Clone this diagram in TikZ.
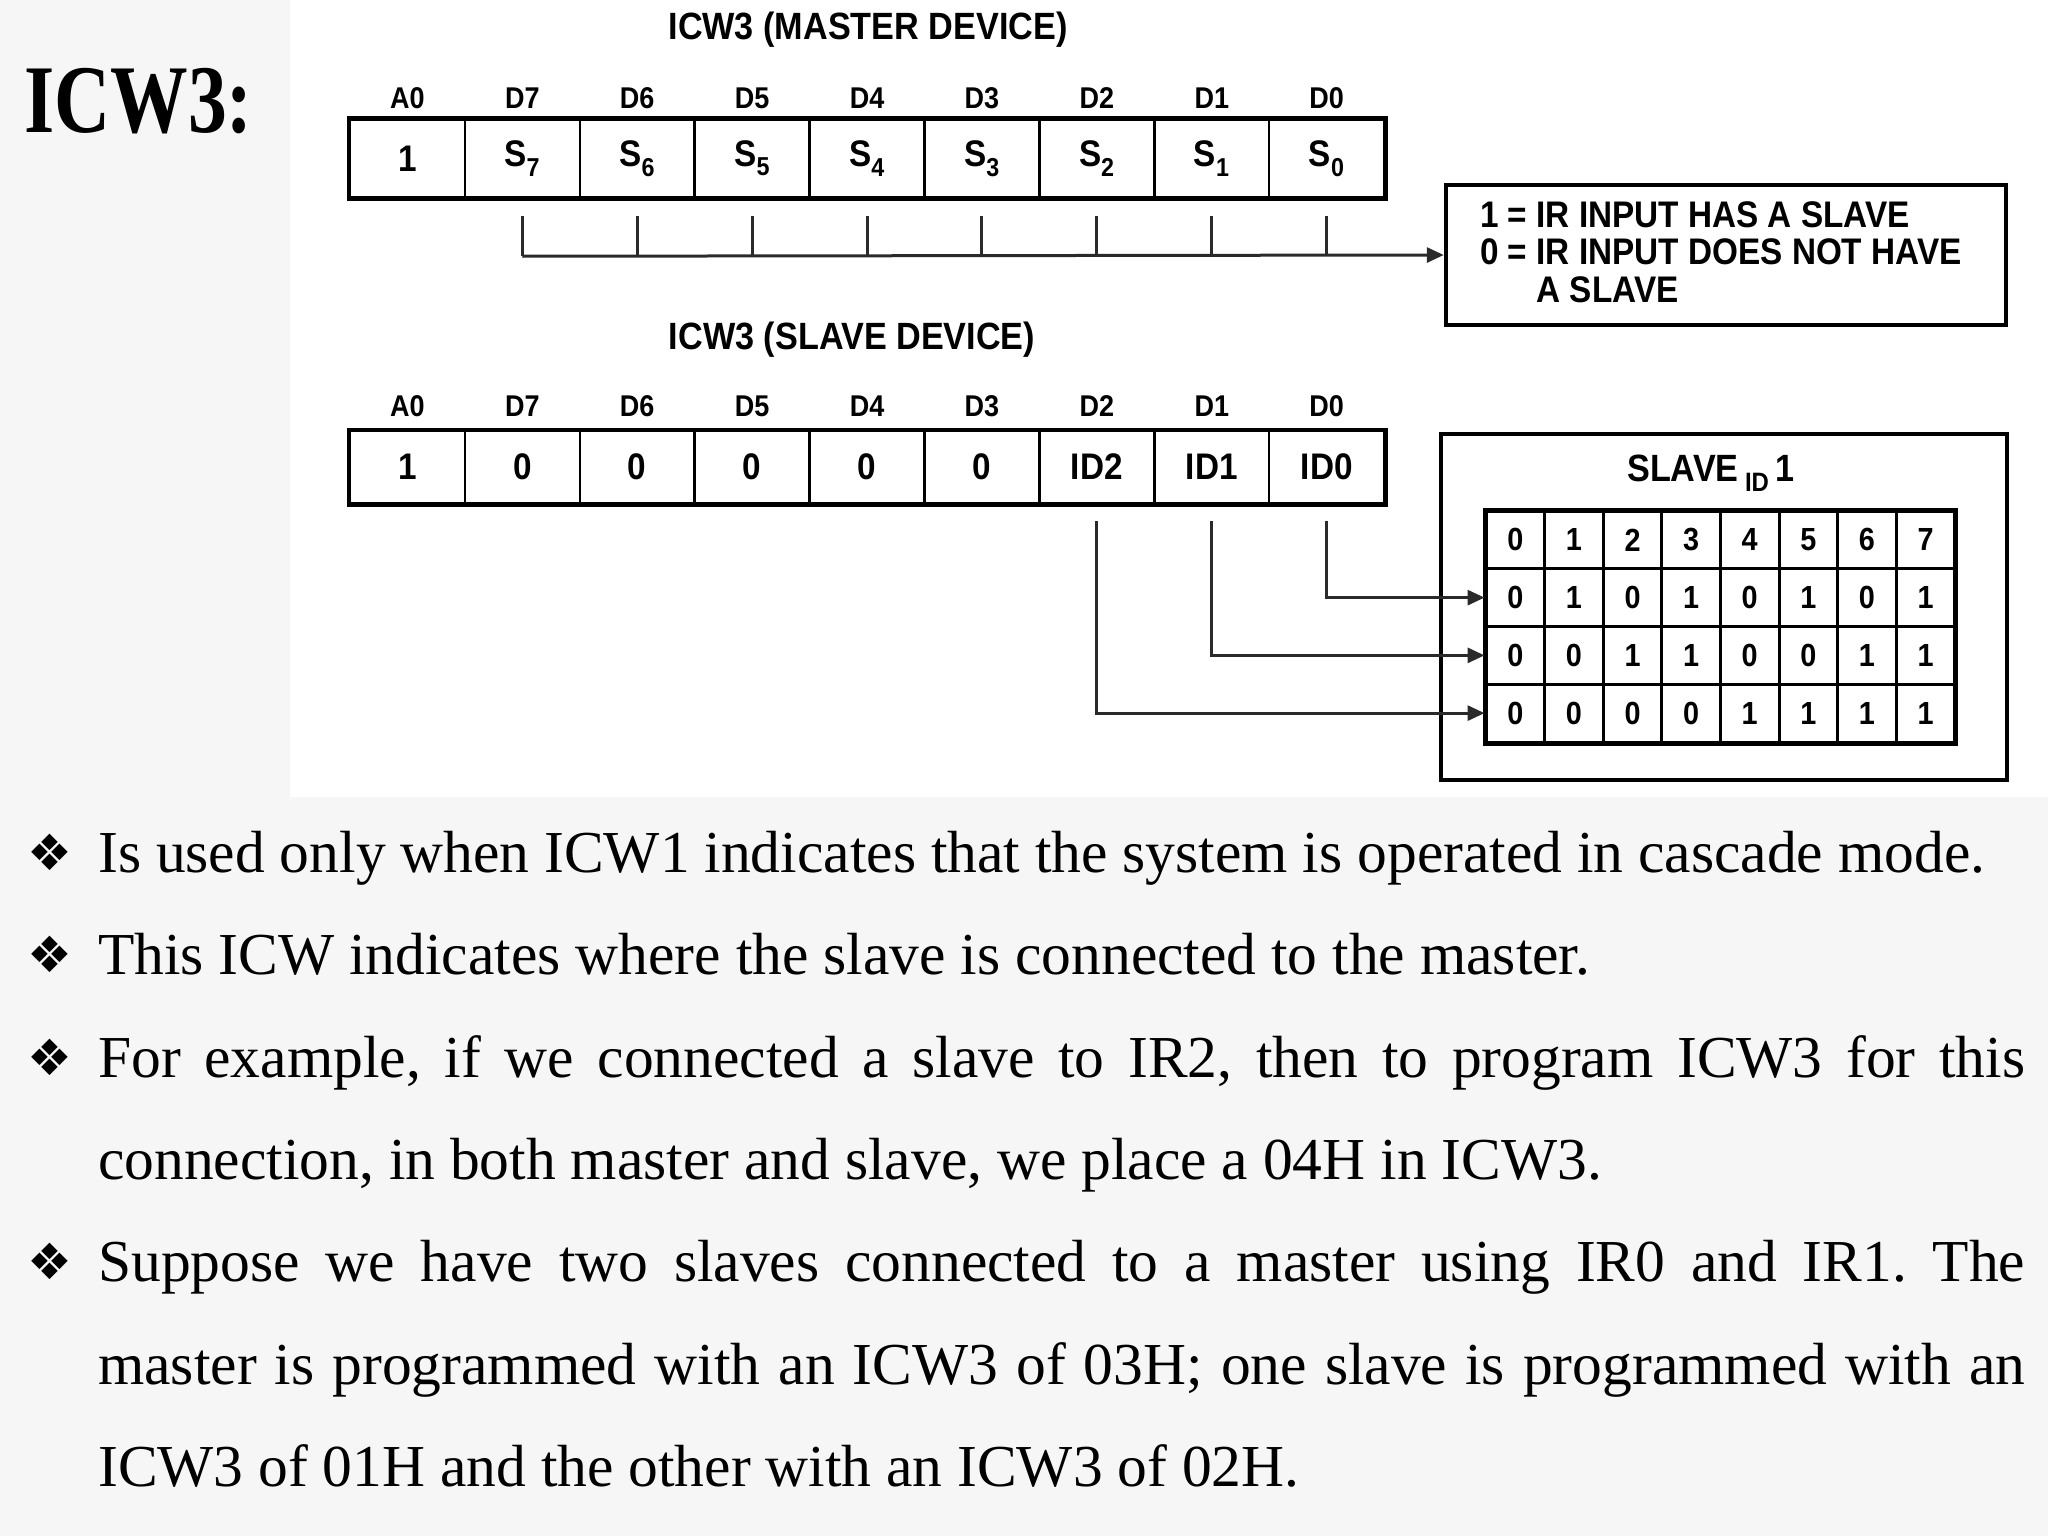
\documentclass[tikz,border=0pt]{standalone}
\usepackage{fontspec}
\setmainfont{Liberation Serif}
\newfontfamily\dsans[FakeStretch=0.9]{Liberation Sans}
\newfontfamily\titlefont[FakeStretch=0.8]{Liberation Serif}
\newfontfamily\bulletfont{DejaVu Sans}
\usetikzlibrary{arrows.meta,calc}
\definecolor{bggray}{HTML}{F6F6F6}
\definecolor{conngray}{HTML}{2A2A2A}
\frenchspacing
\begin{document}
\begin{tikzpicture}[x=1pt,y=-1pt,
  lbl/.style={font=\dsans\bfseries\fontsize{30}{32}\selectfont, inner sep=0pt},
  heading/.style={font=\dsans\bfseries\fontsize{38}{40}\selectfont, inner sep=0pt},
  mcell/.style={draw=black, line width=2.5pt, minimum width=114.9pt, minimum height=77pt, inner sep=0pt, font=\dsans\bfseries\fontsize{37}{39}\selectfont},
  scell/.style={mcell, minimum height=72pt},
  tcell/.style={draw=black, line width=3pt, minimum width=58.6pt, minimum height=57.75pt, inner sep=0pt, font=\dsans\bfseries\fontsize{32}{34}\selectfont},
  frame/.style={draw=black, line width=4.5pt, inner sep=0pt},
  legtext/.style={font=\dsans\bfseries\fontsize{37}{39}\selectfont, inner sep=0pt, anchor=west},
  conn/.style={draw=conngray, line width=3pt},
  tip/.style={-{Triangle[length=17pt,width=15pt]}},
  body/.style={font=\fontsize{59.5}{70}\selectfont, inner sep=0pt, anchor=base west},
  bul/.style={font=\bulletfont\fontsize{50}{52}\selectfont, inner sep=0pt}
]
\useasboundingbox (0,0) rectangle (2048,1536);
\fill[bggray] (0,0) rectangle (2048,1536);
\fill[white] (290,0) rectangle (2048,797);

% title
\node[font=\titlefont\bfseries\fontsize{97}{100}\selectfont, inner sep=0pt, anchor=base west] (title) at (24,132) {ICW3:};

% ---- master register ----
\node[heading] (mhead) at (868,30) {ICW3 (MASTER DEVICE)};
\foreach \i/\l/\t in {0/A0/1, 1/D7/S\textsubscript{7}, 2/D6/S\textsubscript{6}, 3/D5/S\textsubscript{5}, 4/D4/S\textsubscript{4}, 5/D3/S\textsubscript{3}, 6/D2/S\textsubscript{2}, 7/D1/S\textsubscript{1}, 8/D0/S\textsubscript{0}}{
  \node[lbl] (ml\i) at ({350+114.9*(\i+0.5)},98) {\l};
  \node[mcell] (m\i) at ({350+114.9*(\i+0.5)},158.5) {\t};
}
\draw[line width=4.5pt] (m0.north west) rectangle (m8.south east);

% legend box
\node[frame, minimum width=560pt, minimum height=140pt] (legend) at (1726,255) {};
\node[legtext] (leg1) at (1480,215) {1 = IR INPUT HAS A SLAVE};
\node[legtext] (leg2) at (1480,252) {0 = IR INPUT DOES NOT HAVE};
\node[legtext] (leg3) at (1480,290) {\phantom{0 = }A SLAVE};

% bracket
\foreach \i in {1,...,8}{
  \draw[conn] ($(m\i.south)+(0,18)$) -- ($(m\i.south)+(0,58)$);
}
\draw[conn,tip] ($(m1.south)+(0,58)$) -- (legend.west);

% ---- slave register ----
\node[heading] (shead) at (852,340) {ICW3 (SLAVE DEVICE)};
\foreach \i/\l/\t in {0/A0/1, 1/D7/0, 2/D6/0, 3/D5/0, 4/D4/0, 5/D3/0, 6/D2/ID2, 7/D1/ID1, 8/D0/ID0}{
  \node[lbl] (sl\i) at ({350+114.9*(\i+0.5)},406) {\l};
  \node[scell] (s\i) at ({350+114.9*(\i+0.5)},467) {\t};
}
\draw[line width=4.5pt] (s0.north west) rectangle (s8.south east);

% slave ID box
\node[frame, minimum width=566pt, minimum height=346pt] (slavebox) at (1724,607) {};
\node[heading] (sid) at (1711,473) {SLAVE\,\textsubscript{ID}\,1};
\foreach \r/\vals in {0/{0,1,2,3,4,5,6,7}, 1/{0,1,0,1,0,1,0,1}, 2/{0,0,1,1,0,0,1,1}, 3/{0,0,0,0,1,1,1,1}}{
  \foreach \v [count=\c from 0] in \vals {
    \node[tcell] (t\r\c) at ({1486+58.6*(\c+0.5)},{511+57.75*(\r+0.5)}) {\v};
  }
}
\draw[line width=4pt] (t00.north west) rectangle (t37.south east);

% connectors slave -> table
\draw[conn,tip] ($(s8.south)+(0,17)$) |- (t10.west);
\draw[conn,tip] ($(s7.south)+(0,17)$) |- (t20.west);
\draw[conn,tip] ($(s6.south)+(0,17)$) |- (t30.west);

% ---- bullets text ----
\node[bul] (b1) at (50,852) {❖};
\node[body] (l1) at (98,872) {Is used only when ICW1 indicates that the system is operated in cascade mode.};
\node[bul] (b2) at (50,954) {❖};
\node[body] (l2) at (98,974) {This ICW indicates where the slave is connected to the master.};
\node[bul] (b3) at (50,1057) {❖};
\node[body] (l3) at (98,1077) {\makebox[1927pt][s]{For example, if we connected a slave to IR2, then to program ICW3 for this}};
\node[body] (l4) at (98,1179) {connection, in both master and slave, we place a 04H in ICW3.};
\node[bul] (b5) at (50,1261) {❖};
\node[body] (l5) at (98,1281) {\makebox[1927pt][s]{Suppose we have two slaves connected to a master using IR0 and IR1. The}};
\node[body] (l6) at (98,1384) {\makebox[1927pt][s]{master is programmed with an ICW3 of 03H; one slave is programmed with an}};
\node[body] (l7) at (98,1486) {ICW3 of 01H and the other with an ICW3 of 02H.};
\end{tikzpicture}
\end{document}
